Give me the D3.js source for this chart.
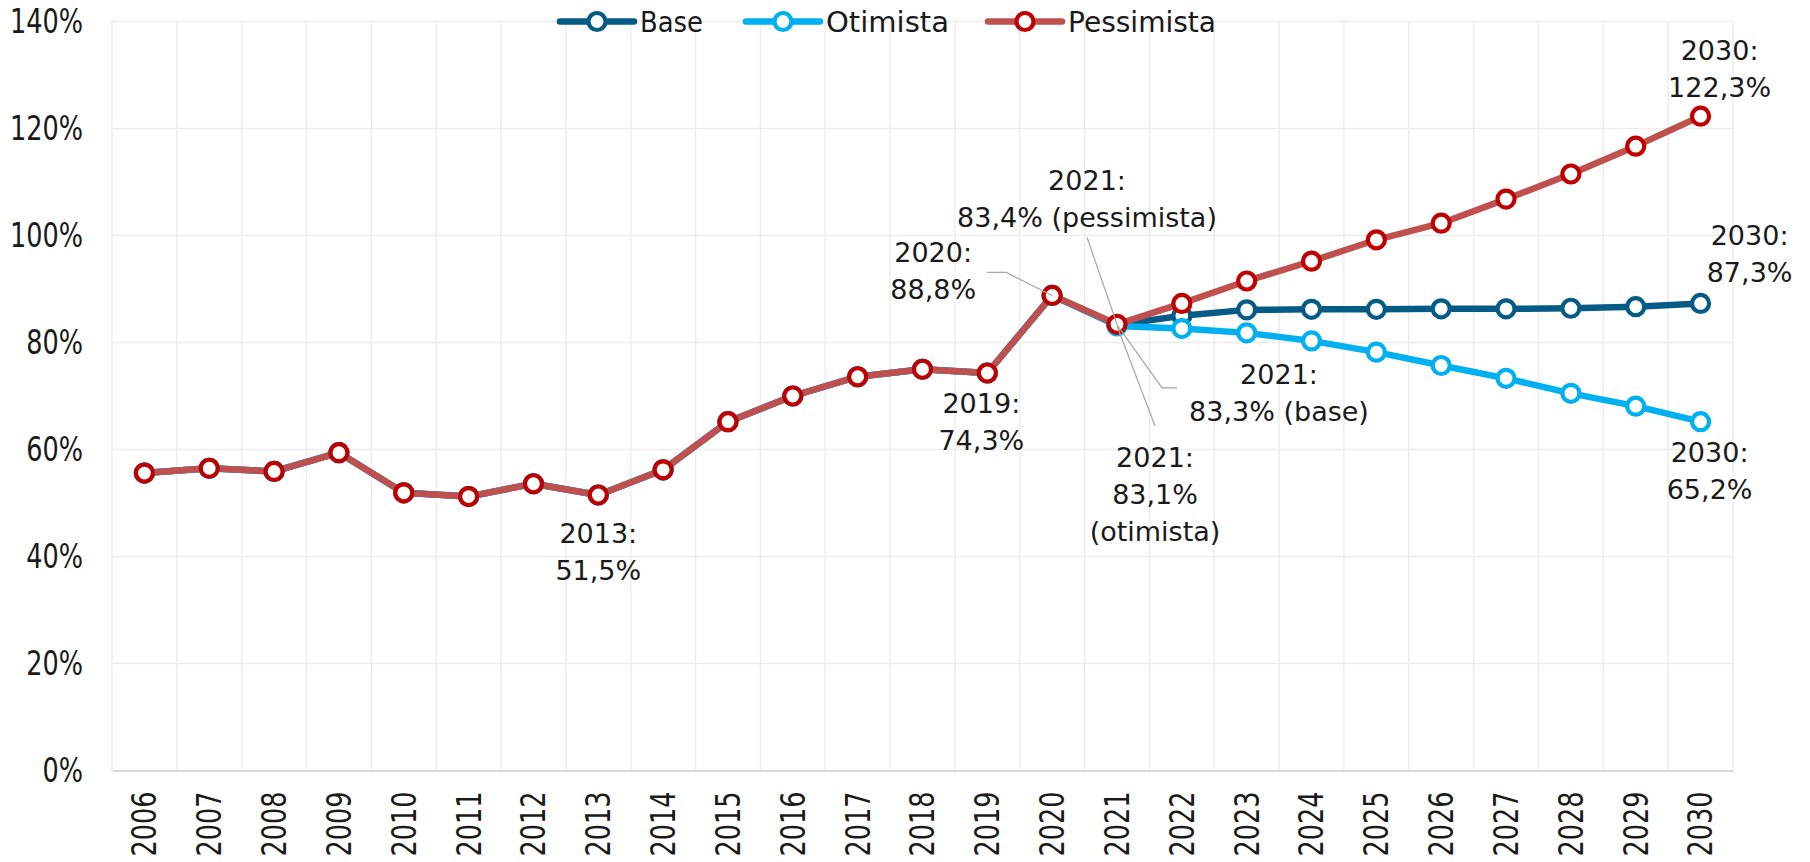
<!DOCTYPE html>
<html><head><meta charset="utf-8">
<script src="https://cdn.jsdelivr.net/npm/d3@7"></script>
<style>
html,body{margin:0;padding:0;background:#fff;}
.narrow{font-family:"Liberation Sans Narrow","DejaVu Sans",sans-serif;}
.ann{font-family:"DejaVu Sans",sans-serif;font-size:27px;fill:#1a1a1a;}
</style></head>
<body>
<svg id="c" width="1810" height="862"></svg>
<script>
const years = ["2006","2007","2008","2009","2010","2011","2012","2013","2014","2015","2016","2017","2018","2019","2020","2021","2022","2023","2024","2025","2026","2027","2028","2029","2030"];
const base       = [55.6,56.5,55.9,59.4,51.9,51.2,53.6,51.5,56.2,65.2,70.0,73.6,75.0,74.3,88.8,83.3,85.0,86.1,86.2,86.2,86.3,86.3,86.4,86.7,87.3];
const otimista   = [55.6,56.5,55.9,59.4,51.9,51.2,53.6,51.5,56.2,65.2,70.0,73.6,75.0,74.3,88.8,83.1,82.6,81.8,80.3,78.2,75.7,73.3,70.5,68.1,65.2];
const pessimista = [55.6,56.5,55.9,59.4,51.9,51.2,53.6,51.5,56.2,65.2,70.0,73.6,75.0,74.3,88.8,83.4,87.3,91.5,95.2,99.2,102.3,106.8,111.5,116.7,122.3];
const seriesNames = ["Base","Otimista","Pessimista"];
const yTicks = [0,20,40,60,80,100,120,140];
const yTickLabels = ["0%","20%","40%","60%","80%","100%","120%","140%"];

const series = [
  {name:"Base", values:base, line:"#035b86", mark:"#035b86"},
  {name:"Otimista", values:otimista, line:"#00b0f0", mark:"#00b0f0"},
  {name:"Pessimista", values:pessimista, line:"#c0504d", mark:"#c00000"}
];

const svg = d3.select("#c");
const L=112, R=1733, T=21.5, B=770.5;
const FS = 33, FSL = 28;
const x = d3.scaleBand().domain(years).range([L,R]);
const y = d3.scaleLinear().domain([0,140]).range([B,T]);
const cx = d => x(d)+x.bandwidth()/2;

// measure helper for narrow font horizontal fit
const probe = svg.append("text").attr("class","narrow").attr("x",-1000).attr("y",-1000);
function measure(s,fs){ probe.attr("font-size",fs).text(s); return probe.node().getComputedTextLength(); }
const kAxis = 65 / measure("2006",FS);
const legTargets = [63,123,148];
probe.remove();
function condense(sel,k){
  sel.each(function(){
    const w=this.getComputedTextLength();
    d3.select(this).attr("textLength",w*k).attr("lengthAdjust","spacingAndGlyphs");
  });
}

// gridlines
const g = svg.append("g");
g.selectAll("line.h").data(yTicks.filter(t=>t>0)).enter().append("line")
  .attr("x1",L).attr("x2",R).attr("y1",d=>y(d)).attr("y2",d=>y(d))
  .attr("stroke","#ededed").attr("stroke-width",1.5);
g.selectAll("line.v").data(years.map(d=>x(d)).concat([R])).enter().append("line")
  .attr("x1",d=>d).attr("x2",d=>d).attr("y1",T).attr("y2",B)
  .attr("stroke","#ededed").attr("stroke-width",1.5);

// axes
const yAxis = svg.append("g").attr("transform",`translate(${L},0)`)
  .call(d3.axisLeft(y).tickValues(yTicks).tickFormat((d,i)=>yTickLabels[i]).tickSize(0).tickPadding(29));
yAxis.select(".domain").remove();
yAxis.attr("font-family",null);
yAxis.selectAll("text").attr("class","narrow").attr("font-size",FS).attr("fill","#1a1a1a");
condense(yAxis.selectAll("text"),kAxis);

const xAxis = svg.append("g").attr("transform",`translate(0,${B})`)
  .call(d3.axisBottom(x).tickSize(0));
xAxis.attr("font-family",null);
xAxis.select(".domain").attr("stroke","#d9d9d9").attr("stroke-width",2);
xAxis.selectAll("text").attr("class","narrow").attr("font-size",FS).attr("fill","#1a1a1a")
  .attr("transform","rotate(-90)").attr("text-anchor","end")
  .attr("x",-21).attr("y",0).attr("dy","0.36em");
condense(xAxis.selectAll("text"),kAxis);

// lines
const line = d3.line().x((d,i)=>cx(years[i])).y(d=>y(d));
series.forEach(s=>{
  svg.append("path").datum(s.values).attr("d",line).attr("fill","none")
    .attr("stroke",s.line).attr("stroke-width",6.5).attr("stroke-linejoin","round");
});
series.forEach(s=>{
  svg.append("g").selectAll("circle").data(s.values).enter().append("circle")
    .attr("cx",(d,i)=>cx(years[i])).attr("cy",d=>y(d)).attr("r",8.5)
    .attr("fill","#fff").attr("stroke",s.mark).attr("stroke-width",4.2);
});

// legend
const legX = [597, 783, 1025];
series.forEach((s,i)=>{
  const lg = svg.append("g");
  lg.append("line").attr("x1",legX[i]-37).attr("x2",legX[i]+37).attr("y1",21.5).attr("y2",21.5)
    .attr("stroke",s.line).attr("stroke-width",6.5).attr("stroke-linecap","round");
  lg.append("circle").attr("cx",legX[i]).attr("cy",21.5).attr("r",8.5).attr("fill","#fff")
    .attr("stroke",s.mark).attr("stroke-width",4.2);
  lg.append("text").attr("class","narrow").attr("x",legX[i]+43).attr("y",21.5).attr("dy","0.36em")
    .attr("font-size",FSL).attr("fill","#1a1a1a").text(seriesNames[i])
    .attr("textLength",legTargets[i]).attr("lengthAdjust","spacingAndGlyphs");
});

// annotations: year, value, label-center offsets from point
const anns = [
  {yr:"2013", v:51.5, dx:0, dy:39, lines:["2013:","51,5%"]},
  {yr:"2019", v:74.3, dx:-6, dy:31, lines:["2019:","74,3%"]},
  {yr:"2020", v:88.8, dx:-119, dy:-43, lines:["2020:","88,8%"]},
  {yr:"2021", v:83.4, dx:-30, dy:-144, lines:["2021:","83,4% (pessimista)"]},
  {yr:"2021", v:83.3, dx:162, dy:50, lines:["2021:","83,3% (base)"]},
  {yr:"2021", v:83.1, dx:38, dy:132, lines:["2021:","83,1%","(otimista)"]},
  {yr:"2030", v:122.3, dx:19, dy:-66, lines:["2030:","122,3%"]},
  {yr:"2030", v:87.3, dx:49, dy:-68, lines:["2030:","87,3%"]},
  {yr:"2030", v:65.2, dx:9, dy:31, lines:["2030:","65,2%"]}
];
// leader lines (relative to point)
const leaders = [
  {yr:"2020", v:88.8, pts:[[-65,-23],[-46,-23]]},
  {yr:"2021", v:83.4, pts:[[-30,-87]]},
  {yr:"2021", v:83.1, pts:[[38,100]]},
  {yr:"2021", v:83.3, pts:[[60,63],[45,63]]}
];
leaders.forEach(l=>{
  const px=cx(l.yr), py=y(l.v);
  const pts = l.pts.map(p=>[px+p[0],py+p[1]]).concat([[px,py]]);
  svg.append("path").attr("d",d3.line()(pts)).attr("fill","none")
    .attr("stroke","#a6a6a6").attr("stroke-width",1.2);
});
anns.forEach(a=>{
  const px=cx(a.yr)+a.dx, py=y(a.v)+a.dy;
  const t = svg.append("text").attr("class","ann").attr("text-anchor","middle");
  a.lines.forEach((s,i)=>{
    t.append("tspan").attr("x",px).attr("y",py+i*37).attr("dy","0.35em").text(s);
  });
});
</script>
</body></html>
